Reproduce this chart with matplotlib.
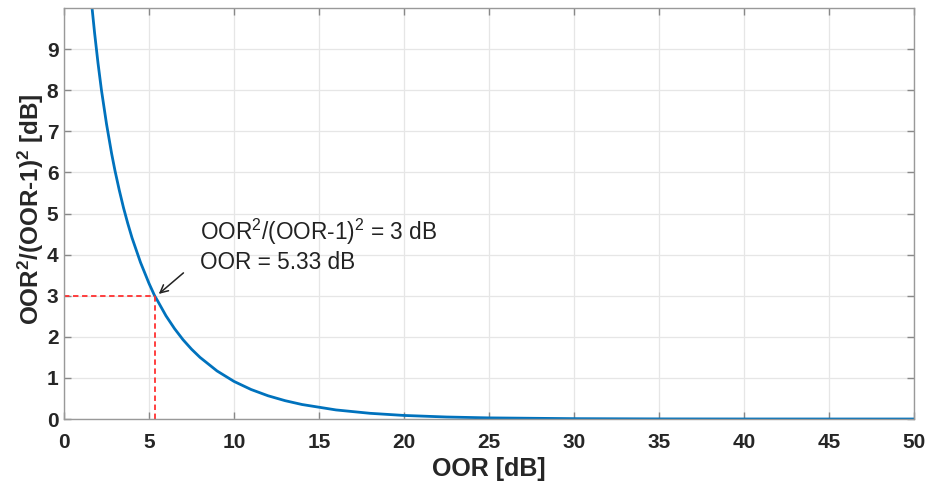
import matplotlib
matplotlib.use('Agg')
import matplotlib.pyplot as plt
import numpy as np

## curve values (OOR in dB vs OOR^2/(OOR-1)^2 in dB)
oor_db = [1.65, 1.8, 2.0, 2.2, 2.5, 2.8, 3.0, 3.25, 3.5, 3.75, 4.0, 4.5, 5.0, 5.33, 5.5,
          6.0, 6.5, 7.0, 7.5, 8.0, 9.0, 10.0, 11.0, 12.0, 13.0, 14.0, 16.0, 18.0, 20.0,
          22.5, 25.0, 30.0, 35.0, 40.0, 45.0, 50.0]
ratio_db = [10.0, 9.39, 8.66, 8.01, 7.18, 6.46, 6.04, 5.57, 5.14, 4.76, 4.41, 3.81, 3.30, 3.0, 2.88,
            2.51, 2.20, 1.93, 1.70, 1.50, 1.17, 0.915, 0.719, 0.566, 0.447, 0.353, 0.221, 0.139, 0.087,
            0.049, 0.0275, 0.0087, 0.0028, 0.0009, 0.0003, 0.0001]

marker_x = 5.33
marker_y = 3.0
note = 'OOR$^2$/(OOR-1)$^2$ = 3 dB\nOOR = 5.33 dB'

xticks = np.arange(0, 51, 5)
yticks = np.arange(0, 10, 1)

## fonts (Arial-ish)
matplotlib.rc('font', family='Liberation Sans')
matplotlib.rc('mathtext', fontset='custom', rm='Liberation Sans', it='Liberation Sans',
              bf='Liberation Sans:bold')

fig = plt.figure(figsize=(9.29, 4.91), dpi=100)
ax = fig.add_axes([0.0689, 0.1466, 0.915, 0.837])

ax.plot(oor_db, ratio_db, color='#0072BD', lw=2)
ax.plot([0, marker_x], [marker_y, marker_y], color='#FF3030', ls=(0, (3, 2)), lw=1.3)
ax.plot([marker_x, marker_x], [0, marker_y], color='#FF3030', ls=(0, (3, 2)), lw=1.3)

ax.annotate('', xy=(5.45, 3.0), xytext=(7.15, 3.6),
            arrowprops=dict(arrowstyle='->', color='#222222', lw=1.1, mutation_scale=14))
ax.text(8.0, 4.22, note, fontsize=16.3, color='#222222', ha='left', va='center', linespacing=1.25)

ax.set_xlim(0, 50)
ax.set_ylim(0, 10)
ax.set_xticks(xticks)
ax.set_yticks(yticks)
ax.grid(True, color='#e6e6e6', lw=0.9)
ax.set_axisbelow(True)
ax.tick_params(direction='in', top=True, right=True, length=5, width=1, color='#888888',
               labelsize=15, labelcolor='#262626')
ax.tick_params(axis='x', pad=10)
ax.tick_params(axis='y', pad=4)
for lab in ax.get_xticklabels() + ax.get_yticklabels():
    lab.set_fontweight('bold')
for sp in ax.spines.values():
    sp.set_color('#999999')
    sp.set_linewidth(1)

ax.set_xlabel('OOR [dB]', fontsize=18, fontweight='bold', color='#262626')
ax.set_ylabel(r'OOR$^\mathbf{2}$/(OOR-1)$^\mathbf{2}$ [dB]', fontsize=17.5, fontweight='bold',
              color='#262626')
ax.xaxis.set_label_coords(0.5, -0.093)
ax.yaxis.set_label_coords(-0.021, 0.51)

plt.savefig('out.png', dpi=100)
